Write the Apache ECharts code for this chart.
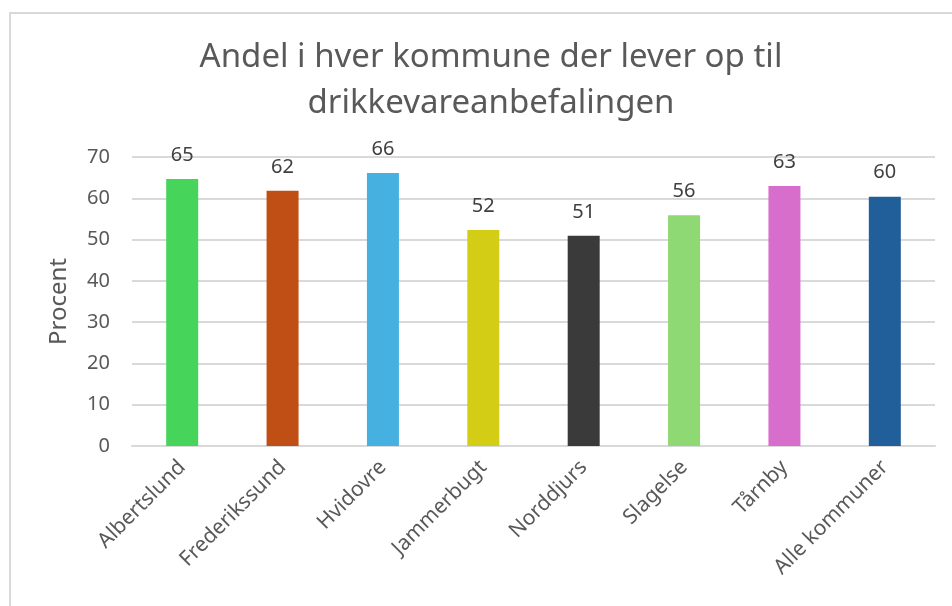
<!DOCTYPE html>
<html>
<head>
<meta charset="utf-8">
<script src="https://cdn.jsdelivr.net/npm/echarts@6/dist/echarts.min.js"></script>
<style>
  html, body { margin: 0; padding: 0; background: #fff; }
  .frame {
    position: absolute; left: 9px; top: 12px; width: 1000px; height: 700px;
    border-left: 2px solid #d9d9d9; border-top: 2px solid #d9d9d9;
  }
  #chart { position: absolute; left: 0; top: 0; width: 952px; height: 606px; }
</style>
</head>
<body>
<div class="frame"></div>
<div id="chart"></div>
<script>
var titleLines = ["Andel i hver kommune der lever op til", "drikkevareanbefalingen"];
var categories = ["Albertslund", "Frederikssund", "Hvidovre", "Jammerbugt", "Norddjurs", "Slagelse", "Tårnby", "Alle kommuner"];
var values = [64.7, 61.8, 66.1, 52.3, 50.9, 55.9, 63.0, 60.4];
var barColors = ["#47d45a", "#c04f15", "#46b1e1", "#d3cd15", "#3a3a3a", "#8ed973", "#d86ecc", "#215f9a"];
var yTicks = { min: 0, max: 70, interval: 10 };
var yName = "Procent";

var chart = echarts.init(document.getElementById("chart"));
chart.setOption({
  backgroundColor: "transparent",
  animation: false,
  title: {
    text: titleLines.join("\n"),
    left: 486,
    textAlign: "center",
    top: 30,
    textStyle: {
      fontFamily: "Noto Sans",
      fontSize: 33,
      fontWeight: "normal",
      color: "#595959",
      lineHeight: 46
    }
  },
  grid: {
    left: 132,
    right: 17,
    top: 157,
    bottom: 160
  },
  xAxis: {
    type: "category",
    data: categories,
    axisTick: { show: false },
    axisLine: { lineStyle: { color: "#d9d9d9", width: 2 } },
    axisLabel: {
      interval: 0,
      rotate: 45,
      margin: 18,
      fontFamily: "Noto Sans",
      fontSize: 21,
      color: "#595959"
    }
  },
  yAxis: {
    type: "value",
    min: yTicks.min,
    max: yTicks.max,
    interval: yTicks.interval,
    name: yName,
    nameLocation: "middle",
    nameRotate: 90,
    nameGap: 61,
    nameTextStyle: {
      fontFamily: "Noto Sans",
      fontSize: 24,
      color: "#595959"
    },
    axisLabel: {
      margin: 22,
      fontFamily: "Noto Sans",
      fontSize: 20,
      color: "#595959"
    },
    splitLine: { lineStyle: { color: "#d9d9d9", width: 2 } },
    axisLine: { show: false },
    axisTick: { show: false }
  },
  series: [
    {
      type: "bar",
      barWidth: 32,
      data: values.map(function (v, i) {
        return { value: v, itemStyle: { color: barColors[i] } };
      }),
      label: {
        show: true,
        position: "top",
        distance: 14,
        fontFamily: "Noto Sans",
        fontSize: 20,
        color: "#404040",
        formatter: function (p) {
          return Math.round(p.value);
        }
      }
    }
  ]
});
</script>
</body>
</html>
